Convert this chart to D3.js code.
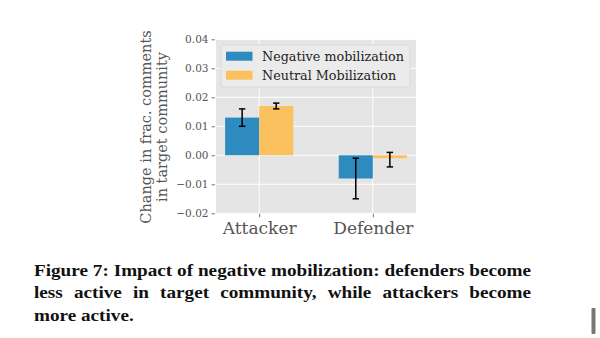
<!DOCTYPE html>
<html><head><meta charset="utf-8">
<script src="https://cdn.jsdelivr.net/npm/d3@7"></script>
<style>html,body{margin:0;padding:0;background:#fff;}svg{display:block;}</style>
</head><body>
<svg id="c" width="600" height="338"></svg>
<script>
const categories = ["Attacker", "Defender"];
const seriesNames = ["Negative mobilization", "Neutral Mobilization"];
const negValues = [0.013, -0.008];
const negLow = [0.010, -0.015];
const negHigh = [0.016, -0.001];
const neuValues = [0.017, -0.001];
const neuLow = [0.016, -0.004];
const neuHigh = [0.018, 0.001];
const yTicks = [-0.02, -0.01, 0.00, 0.01, 0.02, 0.03, 0.04];
const yLabelLines = ["Change in frac. comments", "in target community"];
const captionLines = [
  "Figure 7: Impact of negative mobilization: defenders become",
  "less active in target community, while attackers become",
  "more active."
];
const colors = ["#2e8bc0", "#fbc15e"];

const svg = d3.select("#c");
const L = 216, R = 416, T = 39.3, B = 213.3;

const x = d3.scaleLinear().domain([-0.38, 1.38]).range([L, R]);
const y = d3.scaleLinear().domain([-0.02, 0.04]).range([B, T]);
const bw = 0.3;

svg.append("rect").attr("x", L).attr("y", T).attr("width", R - L).attr("height", B - T).attr("fill", "#e5e5e5");

// grid
svg.append("g").selectAll("line").data(yTicks).join("line")
  .attr("x1", L).attr("x2", R).attr("y1", d => y(d)).attr("y2", d => y(d))
  .attr("stroke", "#fff").attr("stroke-width", 1);
svg.append("g").selectAll("line").data(categories).join("line")
  .attr("x1", (d, i) => x(i)).attr("x2", (d, i) => x(i)).attr("y1", T).attr("y2", B)
  .attr("stroke", "#fff").attr("stroke-width", 1);

// y axis
const yAxis = d3.axisLeft(y).tickValues(yTicks).tickSize(3.5).tickPadding(3)
  .tickFormat(d => d3.format(".2f")(d).replace("-", "\u2212"));
const ya = svg.append("g").attr("transform", `translate(${L - 1},0)`).call(yAxis);
ya.select(".domain").remove();
ya.selectAll("line").attr("stroke", "#777");
ya.selectAll("text").attr("fill", "#555").style("font-family", "DejaVu Serif").style("font-size", "10.5px");

// x axis
const xAxis = d3.axisBottom(x).tickValues([0, 1]).tickSize(3.5).tickPadding(5)
  .tickFormat(i => categories[i]);
const xa = svg.append("g").attr("transform", `translate(0,${B + 0.5})`).call(xAxis);
xa.select(".domain").remove();
xa.selectAll("line").attr("stroke", "#777");
xa.selectAll("text").attr("fill", "#555").style("font-family", "DejaVu Serif").style("font-size", "17px");

// bars
const series = [
  {vals: negValues, lo: negLow, hi: negHigh, off: -bw / 2, color: colors[0]},
  {vals: neuValues, lo: neuLow, hi: neuHigh, off: bw / 2, color: colors[1]}
];
series.forEach(s => {
  svg.append("g").selectAll("rect").data(s.vals).join("rect")
    .attr("x", (d, i) => x(i + s.off - bw / 2))
    .attr("width", x(bw) - x(0))
    .attr("y", d => Math.min(y(d), y(0)))
    .attr("height", d => Math.abs(y(d) - y(0)))
    .attr("fill", s.color);
});
series.forEach(s => {
  const g = svg.append("g");
  s.vals.forEach((d, i) => {
    const cx = x(i + s.off);
    g.append("line").attr("x1", cx).attr("x2", cx).attr("y1", y(s.lo[i])).attr("y2", y(s.hi[i]))
      .attr("stroke", "#000").attr("stroke-width", 1.5);
    [s.lo[i], s.hi[i]].forEach(v => {
      g.append("line").attr("x1", cx - 3.2).attr("x2", cx + 3.2).attr("y1", y(v)).attr("y2", y(v))
        .attr("stroke", "#000").attr("stroke-width", 1.5);
    });
  });
});

// legend
const lg = svg.append("g");
lg.append("rect").attr("x", 221).attr("y", 45).attr("width", 189).attr("height", 42).attr("rx", 2)
  .attr("fill", "#ebebeb").attr("stroke", "#d6d6d6").attr("stroke-width", 0.8);
const lprobe = svg.append("text").text(seriesNames[0]).style("font-family", "DejaVu Serif").style("font-size", "13px");
const lfs = 13 * 142 / lprobe.node().getComputedTextLength();
lprobe.remove();
seriesNames.forEach((n, i) => {
  lg.append("rect").attr("x", 226).attr("y", 51.7 + i * 19).attr("width", 26.5).attr("height", 9)
    .attr("fill", colors[i]);
  lg.append("text").attr("x", 262).attr("y", 61 + i * 19).text(n)
    .attr("fill", "#222").style("font-family", "DejaVu Serif").style("font-size", lfs + "px");
});

// y label
yLabelLines.forEach((t, i) => {
  svg.append("text").attr("transform", `translate(${151 + i * 16},127) rotate(-90)`)
    .attr("text-anchor", "middle").attr("fill", "#555")
    .style("font-family", "DejaVu Serif").style("font-size", "14.5px").text(t);
});

// caption (justified), Times-like bold stretched horizontally to the column
const capL = 34, capR = 531, baselines = [276, 298.5, 321];
const capFont = "Liberation Serif", capFs = 17;
const probe = svg.append("text").text(captionLines[0])
  .style("font-family", capFont).style("font-weight", "bold").style("font-size", capFs + "px");
const sx = (capR - capL) / probe.node().getComputedTextLength();
probe.remove();
const cap = svg.append("g").attr("transform", `translate(${capL},0) scale(${sx},1)`);
const colW = (capR - capL) / sx;
captionLines.forEach((line, li) => {
  const words = line.split(" ");
  const ts = words.map(w => cap.append("text").text(w).attr("y", baselines[li])
    .style("font-family", capFont).style("font-weight", "bold").style("font-size", capFs + "px").attr("fill", "#111"));
  const widths = ts.map(t => t.node().getComputedTextLength());
  const total = d3.sum(widths);
  let gap = capFs * 0.25;
  if (li < captionLines.length - 1) gap = (colW - total) / (words.length - 1);
  let cx = 0;
  ts.forEach((t, k) => { t.attr("x", cx); cx += widths[k] + gap; });
});

// scrollbar artifact
svg.append("rect").attr("x", 591.5).attr("y", 308).attr("width", 4).attr("height", 26).attr("rx", 1).attr("fill", "#777");
</script>
</body></html>
